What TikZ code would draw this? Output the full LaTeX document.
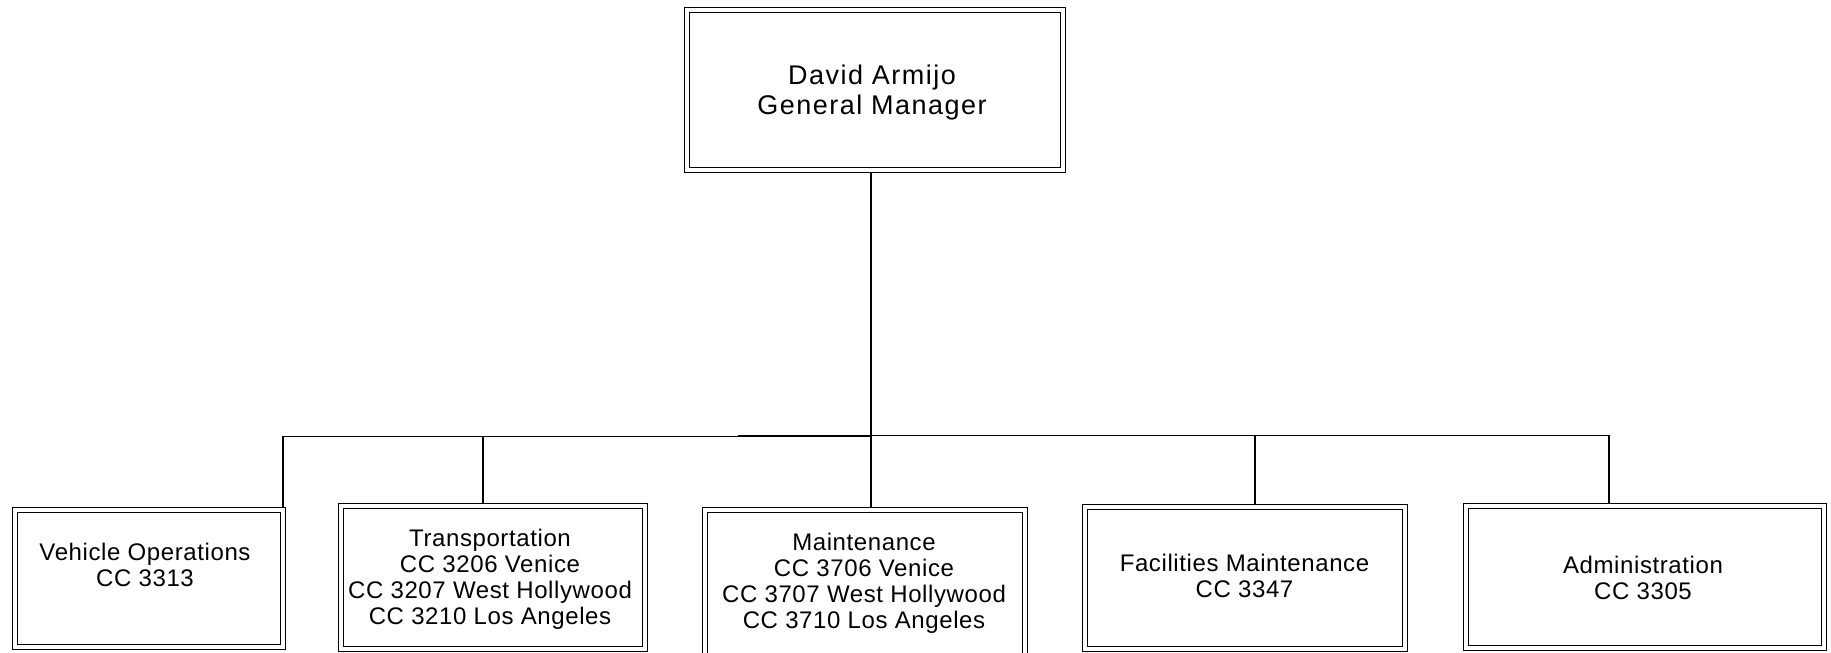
\documentclass[tikz,border=0pt]{standalone}
\usepackage{fontspec}
\newfontfamily\topfont[LetterSpace=5.5]{Liberation Sans}
\newfontfamily\subfont[LetterSpace=2.5]{Liberation Sans}
\newcommand\orglines[1]{\begin{tabular}[t]{@{}c@{}}#1\end{tabular}}
\begin{document}
\begin{tikzpicture}[x=1pt,y=-1pt,
  orgbox/.style={draw=black, double=white, double distance=3.8pt, line width=1.2pt,
    inner sep=0pt, outer sep=3.1pt, rectangle},
  conn/.style={draw=black, line width=1.4pt},
  toptext/.style={inner sep=0pt, anchor=base, font=\topfont\fontsize{27}{30}\selectfont},
  subtext/.style={inner sep=0pt, anchor=base, font=\subfont\fontsize{24}{26}\selectfont}]
\useasboundingbox[fill=white] (0,0) rectangle (1831,653);

% boxes
\node[orgbox, minimum width=375.8pt, minimum height=159.8pt] (gm) at (875,90) {};
\node[orgbox, minimum width=267.8pt, minimum height=136.8pt] (veh) at (149,578.5) {};
\node[orgbox, minimum width=303.8pt, minimum height=142.8pt] (trans) at (493,577.5) {};
\node[orgbox, minimum width=319.8pt, minimum height=151.8pt] (maint) at (865,586) {};
\node[orgbox, minimum width=319.8pt, minimum height=141.8pt] (fac) at (1245,578) {};
\node[orgbox, minimum width=357.8pt, minimum height=141.8pt] (admin) at (1645,577) {};

% texts
\node[toptext] (gmtxt) at (872,84) {\orglines{David Armijo\\General Manager}};
\node[subtext] (vehtxt) at (145,560) {\orglines{Vehicle Operations\\CC 3313}};
\node[subtext] (transtxt) at (490,546.5) {\orglines{Transportation\\CC 3206 Venice\\CC 3207 West Hollywood\\CC 3210 Los Angeles}};
\node[subtext] (mainttxt) at (864,550) {\orglines{Maintenance\\CC 3706 Venice\\CC 3707 West Hollywood\\CC 3710 Los Angeles}};
\node[subtext] (factxt) at (1244.5,571.7) {\orglines{Facilities Maintenance\\CC 3347}};
\node[subtext] (admintxt) at (1643,573.3) {\orglines{Administration\\CC 3305}};

% bus coordinates
\coordinate (busL) at (871,436.7);
\coordinate (busR) at (871,435.3);
\coordinate (vehdrop) at (283,436.7);
\coordinate (transdrop) at (483,436.7);
\coordinate (extra) at (738,435.3);
\coordinate (facdrop) at (1255,435.3);
\coordinate (admindrop) at (1609,435.3);

% connectors
\draw[conn] (gm.south -| busL) -- (busL |- maint.north);
\draw[conn] (busL) -- (vehdrop) -- (vehdrop |- veh.north);
\draw[conn] (transdrop) -- (transdrop |- trans.north);
\draw[conn] (extra) -- (busR);
\draw[conn] (busR) -- (admindrop) -- (admindrop |- admin.north);
\draw[conn] (facdrop) -- (facdrop |- fac.north);
\end{tikzpicture}
\end{document}
